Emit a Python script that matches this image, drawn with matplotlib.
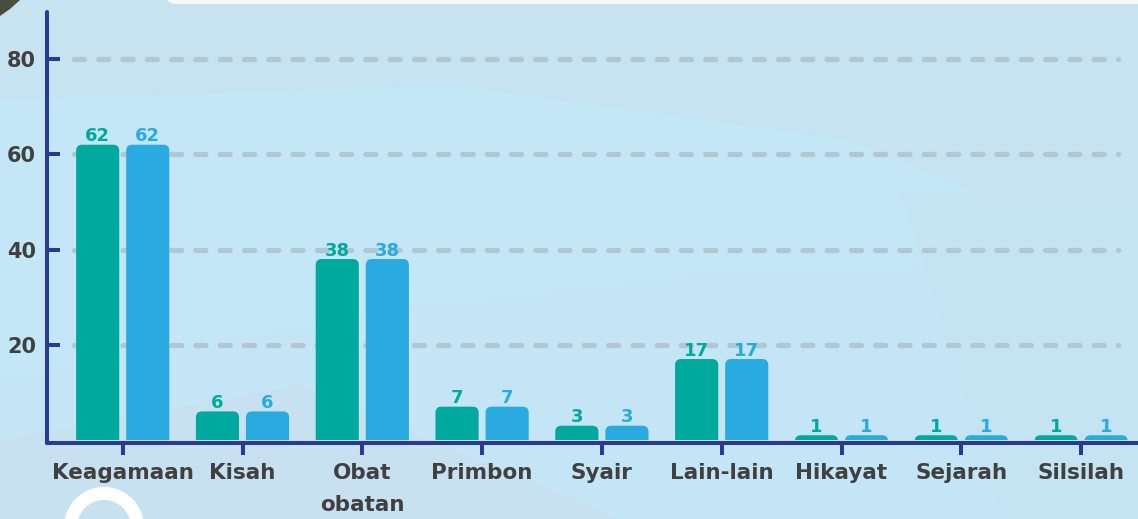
import matplotlib.pyplot as plt
import numpy as np
from matplotlib.patches import FancyBboxPatch, Rectangle, Polygon, Wedge

categories = ['Keagamaan', 'Kisah', 'Obat\nobatan', 'Primbon', 'Syair',
              'Lain-lain', 'Hikayat', 'Sejarah', 'Silsilah']
series_a = [62, 6, 38, 7, 3, 17, 1, 1, 1]
series_b = [62, 6, 38, 7, 3, 17, 1, 1, 1]
yticks = [20, 40, 60, 80]

GREEN = '#00a99d'
BLUE = '#29abe2'
NAVY = '#2b3990'
TEXT = '#404040'
GRID = '#b1c7d1'

W, H = 1138, 519
fig = plt.figure(figsize=(W / 100, H / 100), dpi=100)
fig.patch.set_facecolor('#c3e7f7')

# background decoration, pixel coordinates
bg = fig.add_axes([0, 0, 1, 1], zorder=0)
bg.set_xlim(0, W)
bg.set_ylim(H, 0)
bg.axis('off')
bg.add_patch(Polygon([(0, 0), (W, 0), (W, 260), (850, 140), (450, 85), (0, 100)],
                     fc='#c7e2f1', ec='none'))
bg.add_patch(Polygon([(0, 380), (400, 310), (700, 275), (1000, 265), (W, 330),
                      (W, H), (0, H)], fc='#c4e5f5', ec='none'))
bg.add_patch(Polygon([(0, 440), (300, 385), (620, H), (0, H)],
                     fc='#c8e1f0', ec='none'))
bg.add_patch(Polygon([(900, 190), (W, 200), (W, H), (1000, H)],
                     fc='#c4e3f3', ec='none'))
bg.add_patch(FancyBboxPatch((165, -30), 1100, 34, boxstyle='round,pad=0,rounding_size=12',
                            fc='#f6f8fa', ec='none'))
bg.add_patch(Polygon([(0, 0), (20, 0), (10, 9), (0, 16)], fc='#4b4d3c', ec='none'))
bg.add_patch(Wedge((104, 527), 40, 0, 360, width=13, fc='white', ec='none'))

# main chart
xlim = (-0.632, 8.475)
ylim = (-0.6, 89.87)
pxy = 4.7625
ax_left, ax_bottom = 47, 440 + 0.6 * pxy
ax_w, ax_h = W - ax_left, (ylim[1] - ylim[0]) * pxy
ax = fig.add_axes([ax_left / W, (H - ax_bottom) / H, ax_w / W, ax_h / H], zorder=1)
ax.patch.set_alpha(0)
ax.set_xlim(*xlim)
ax.set_ylim(*ylim)
pxx = ax_w / (xlim[1] - xlim[0])

x = np.arange(len(categories))
bw, off = 0.36, 0.209
bars_a = ax.bar(x - off, series_a, bw, color=GREEN)
bars_b = ax.bar(x + off, series_b, bw, color=BLUE)

# rounded tops
rx = 6 / pxx
asp = pxx / pxy
clip = Rectangle((xlim[0], 0), 20, 200, transform=ax.transData)
for bars, vals, col in ((bars_a, series_a, GREEN), (bars_b, series_b, BLUE)):
    for r, v in zip(bars, vals):
        x0, w, h = r.get_x(), r.get_width(), r.get_height()
        r.set_visible(False)
        p = FancyBboxPatch((x0, -3), w, h + 3,
                           boxstyle=f'round,pad=0,rounding_size={rx}',
                           mutation_aspect=asp, fc=col, ec='none', zorder=2)
        ax.add_patch(p)
        p.set_clip_path(clip)
        ax.text(x0 + w / 2, h + 3.5 / pxy, str(v), ha='center', va='baseline',
                color=col, fontsize=13, fontweight='bold', zorder=3)

# dashed grid
for t in yticks:
    ax.plot([-0.41, 8.31], [t, t], color=GRID, lw=3.8, ls=(0, (1.9, 2.7)),
            dash_capstyle='round', zorder=1)

for s in ('top', 'right'):
    ax.spines[s].set_visible(False)
for s in ('left', 'bottom'):
    ax.spines[s].set_color(NAVY)
    ax.spines[s].set_linewidth(2.9)
    ax.spines[s].set_capstyle('round')

ax.set_yticks(yticks)
ax.tick_params(axis='y', direction='in', length=9.4, width=2.9, color=NAVY,
               labelsize=15, labelcolor=TEXT, pad=8)
ax.set_xticks(x)
ax.set_xticklabels(categories, linespacing=1.75)
ax.tick_params(axis='x', direction='out', length=8.6, width=2.9, color=NAVY,
               labelsize=15.5, labelcolor=TEXT, pad=6)
for lab in ax.get_xticklabels() + ax.get_yticklabels():
    lab.set_fontweight('bold')

fig.savefig('out.png', dpi=100, facecolor=fig.get_facecolor())
